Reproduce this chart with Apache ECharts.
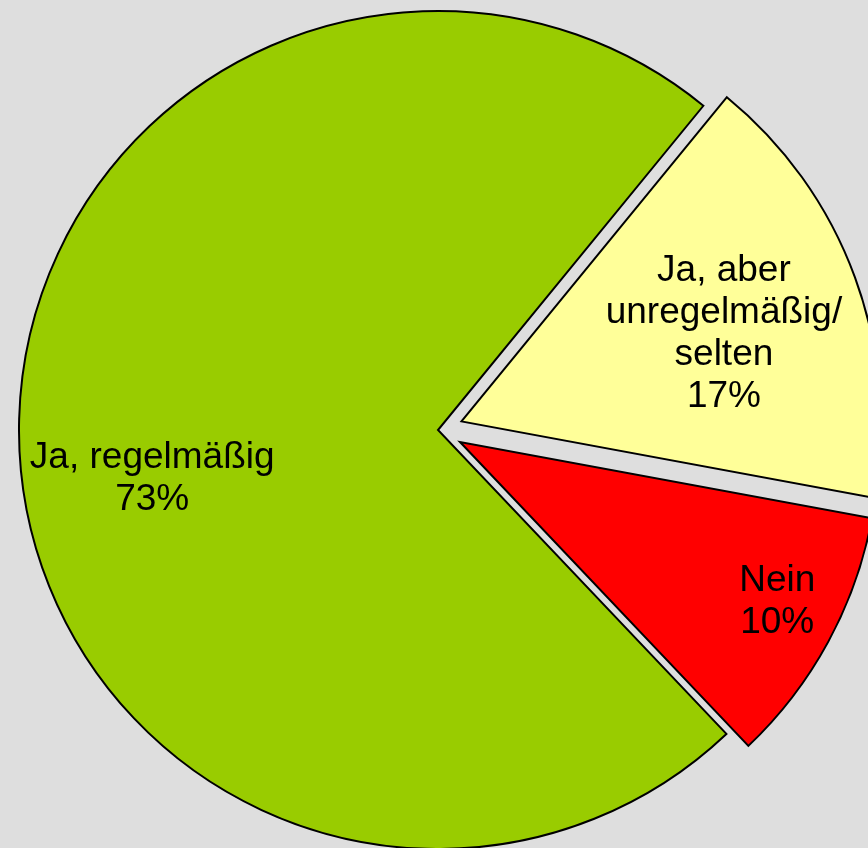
<!DOCTYPE html>
<html>
<head>
<meta charset="utf-8">
<script src="https://cdn.jsdelivr.net/npm/echarts@6/dist/echarts.min.js"></script>
<style>
  html, body { margin: 0; padding: 0; background: #dedede; }
  #chart { width: 868px; height: 848px; }
</style>
</head>
<body>
<div id="chart"></div>
<script>
const names = ["Ja, regelmäßig", "Ja, aber\nunregelmäßig/\nselten", "Nein"];
const shares = [73, 17, 10];
const colors = ["#99cc00", "#ffff99", "#ff0000"];
const exploded = [false, true, true];

// pie geometry
const cx = 438;
const cy = 430;
const R = 419;
const startAngle = 313.5;

// label placement: fraction of radius, angular nudge in degrees
const labelReach = [0.692, 0.72, 0.907];
const labelTurn = [7.6, -1.5, 1.7];

const total = shares.reduce((a, b) => a + b, 0);
const midAngles = [];
let acc = startAngle;
shares.forEach(function (v) {
  const span = (v / total) * 360;
  midAngles.push(acc - span / 2);
  acc -= span;
});

const chart = echarts.init(document.getElementById("chart"));

// slices (exploded ones are "selected")
const pieSeries = {
  type: "pie",
  center: [cx, cy],
  radius: R,
  startAngle: startAngle,
  clockwise: true,
  avoidLabelOverlap: false,
  selectedMode: "multiple",
  selectedOffset: 25,
  itemStyle: {
    borderColor: "#000",
    borderWidth: 2,
    borderJoin: "miter",
  },
  label: { show: false },
  labelLine: { show: false },
  emphasis: { disabled: true },
  select: {
    itemStyle: { borderColor: "#000", borderWidth: 2 },
  },
  data: names.map(function (n, i) {
    return {
      name: n,
      value: shares[i],
      selected: exploded[i],
      itemStyle: { color: colors[i] },
    };
  }),
};

// same data, invisible slices, only carries the labels
const labelSeries = {
  type: "pie",
  center: [cx, cy],
  radius: R,
  startAngle: startAngle,
  clockwise: true,
  silent: true,
  avoidLabelOverlap: false,
  itemStyle: { color: "transparent", borderWidth: 0 },
  label: {
    show: true,
    position: "inside",
    formatter: "{b}\n{c}%",
    color: "#000",
    fontFamily: "Liberation Sans, Arial, sans-serif",
    fontSize: 37,
    lineHeight: 42,
    align: "center",
  },
  labelLine: { show: false },
  emphasis: { disabled: true },
  labelLayout: function (params) {
    const i = params.dataIndex;
    const a = ((midAngles[i] + labelTurn[i]) * Math.PI) / 180;
    const r = R * labelReach[i];
    return {
      x: cx + r * Math.cos(a),
      y: cy - r * Math.sin(a),
      align: "center",
      verticalAlign: "middle",
    };
  },
  data: names.map(function (n, i) {
    return { name: n, value: shares[i] };
  }),
};

chart.setOption({
  backgroundColor: "#dedede",
  animation: false,
  series: [pieSeries, labelSeries],
});
</script>
</body>
</html>
